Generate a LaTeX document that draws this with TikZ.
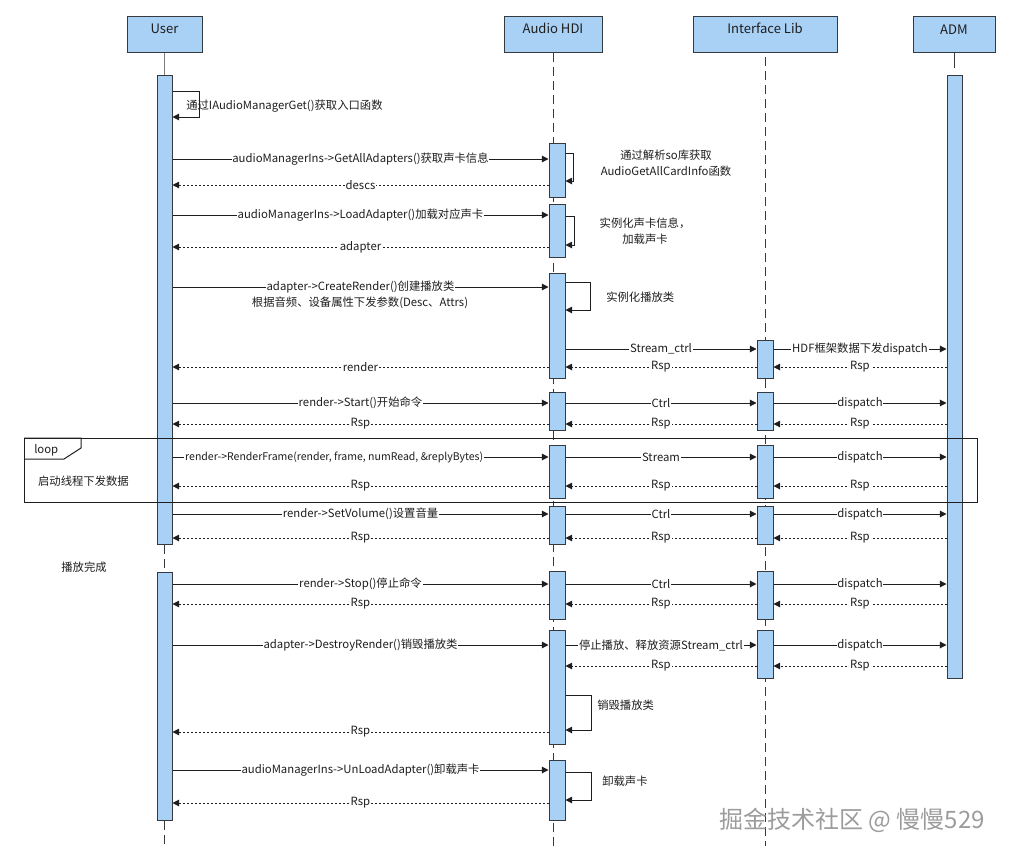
\documentclass[tikz,border=0pt]{standalone}
\usepackage{fontspec}
\setmainfont{Noto Sans CJK SC}
\usepackage{tikz}
\usetikzlibrary{arrows.meta,fit,positioning}
\definecolor{barra}{HTML}{A9D1F5}
\definecolor{borde}{HTML}{36393D}
\definecolor{linea}{HTML}{1E1E1E}
\definecolor{tenue}{HTML}{7A7A7A}
\definecolor{marca}{HTML}{9C9C9C}
\tikzset{
  cabeza/.style={draw=borde,fill=barra,line width=0.75pt,inner sep=0pt,font=\fontsize{9.8}{11}\selectfont,text=linea},
  activ/.style={draw=borde,fill=barra,line width=0.75pt,inner sep=0pt},
  vida/.style={draw=borde,line width=0.75pt,dash pattern=on 7pt off 3.5pt},
  vidafija/.style={draw=tenue,line width=0.75pt},
  mensaje/.style={draw=linea,line width=0.75pt,-{Triangle[length=5pt,width=5pt]}},
  retorno/.style={mensaje,dash pattern=on 1.5pt off 1.5pt},
  etiq/.style={fill=white,inner sep=0.6pt,font=\fontsize{8.5}{10}\selectfont,text=linea},
  etiqlarga/.style={etiq,font=\fontsize{7.9}{10}\selectfont},
  nota/.style={inner sep=0pt,font=\fontsize{8.5}{12}\selectfont,text=linea,align=center},
  marco/.style={draw=linea,line width=0.75pt},
  sello/.style={inner sep=0pt,font=\fontsize{18}{20}\selectfont,text=marca},
}
\begin{document}
\begin{tikzpicture}[x=0.75pt,y=-0.75pt]
\useasboundingbox (0,0) rectangle (1015,857);
\node[cabeza,fit={(127,16)(202,52)}] (user) {User};
\node[cabeza,fit={(504,16)(602,52)}] (hdi) {Audio HDI};
\node[cabeza,fit={(693,16)(837,52)}] (lib) {Interface Lib};
\node[cabeza,fit={(913,16)(995,52)}] (adm) {ADM};
\coordinate (fin) at (0,846);
\coordinate (fin2) at (0,57);
\draw[vida] (hdi.south) -- (hdi.south |- fin);
\draw[vida] (lib.south |- fin2) -- (lib.south |- fin);
\node[activ,fit={(157,75)(172,544)}] (u1) {};
\node[activ,fit={(157,572)(172,820)}] (u2) {};
\draw[vidafija] (user.south) -- (u1.north);
\draw[vida] (u1.south) -- (u2.north);
\draw[vida] (u2.south) -- (u2.south |- fin);
\node[activ,fit={(549,143)(565,197)}] (h1) {};
\node[activ,fit={(549,204)(565,257)}] (h2) {};
\node[activ,fit={(549,273)(565,378)}] (h3) {};
\node[activ,fit={(549,392)(565,430)}] (h4) {};
\node[activ,fit={(549,445)(565,498)}] (h5) {};
\node[activ,fit={(549,506)(565,544)}] (h6) {};
\node[activ,fit={(549,571)(565,619)}] (h7) {};
\node[activ,fit={(549,630)(565,744)}] (h8) {};
\node[activ,fit={(549,760)(565,820)}] (h9) {};
\node[activ,fit={(757,340)(773,378)}] (i1) {};
\node[activ,fit={(757,392)(773,430)}] (i2) {};
\node[activ,fit={(757,445)(773,498)}] (i3) {};
\node[activ,fit={(757,506)(773,544)}] (i4) {};
\node[activ,fit={(757,571)(773,619)}] (i5) {};
\node[activ,fit={(757,630)(773,678)}] (i6) {};
\node[activ,fit={(947,75)(962,678)}] (d1) {};
\draw[draw=borde,line width=0.75pt] (adm.south) -- ++(0,15);
\coordinate (f1) at (0,159);
\coordinate (f2) at (0,185);
\coordinate (f3) at (0,215);
\coordinate (f4) at (0,247);
\coordinate (f5) at (0,287);
\coordinate (f6) at (0,349);
\coordinate (f7) at (0,367);
\coordinate (f8) at (0,403);
\coordinate (f9) at (0,424);
\coordinate (f10) at (0,457);
\coordinate (f11) at (0,486);
\coordinate (f12) at (0,514);
\coordinate (f13) at (0,538);
\coordinate (f14) at (0,584);
\coordinate (f15) at (0,604);
\coordinate (f16) at (0,645);
\coordinate (f17) at (0,666);
\coordinate (f18) at (0,732);
\coordinate (f19) at (0,770);
\coordinate (f20) at (0,803);
\coordinate (s0a) at (199,91);
\coordinate (s0b) at (199,117);
\coordinate (s1a) at (573,153);
\coordinate (s1b) at (573,181);
\coordinate (s2a) at (574,216);
\coordinate (s2b) at (574,245);
\coordinate (s3a) at (590,282);
\coordinate (s3b) at (590,310);
\coordinate (s4a) at (591,695);
\coordinate (s4b) at (591,730);
\coordinate (s5a) at (591,772);
\coordinate (s5b) at (591,800);
\draw[marco] (24,438) rectangle (977,502);
\draw[marco] (24,438) -- (81,438) -- (81,448) -- (64,459) -- (24,459);
\node[nota,anchor=west] (bucle) at (34,450) {loop};
\node[nota] (hilo) at (83.5,481) {启动线程下发数据};
\node[nota] (fin3) at (84,567) {播放完成};
\draw[mensaje] (u1.east |- s0a) -- (s0a) -- (s0b) -- (u1.east |- s0b);
\node[nota,anchor=west] (n0) at (186,106) {通过IAudioManagerGet()获取入口函数};
\draw[mensaje] (u1.east |- f1) -- node[etiq] {audioManagerIns->GetAllAdapters()获取声卡信息} (h1.west |- f1);
\draw[mensaje] (h1.east |- s1a) -- (s1a) -- (s1b) -- (h1.east |- s1b);
\node[nota] (n1) at (666,163) {通过解析so库获取\\AudioGetAllCardInfo函数};
\draw[retorno] (h1.west |- f2) -- node[etiq] {descs} (u1.east |- f2);
\draw[mensaje] (u1.east |- f3) -- node[etiq] {audioManagerIns->LoadAdapter()加载对应声卡} (h2.west |- f3);
\draw[mensaje] (h2.east |- s2a) -- (s2a) -- (s2b) -- (h2.east |- s2b);
\node[nota] (n2) at (645,231) {实例化声卡信息，\\加载声卡};
\draw[retorno] (h2.west |- f4) -- node[etiq] {adapter} (u1.east |- f4);
\draw[mensaje] (u1.east |- f5) -- node[etiq] {adapter->CreateRender()创建播放类} (h3.west |- f5);
\node[nota] (n3) at (360,303) {根据音频、设备属性下发参数(Desc、Attrs)};
\draw[mensaje] (h3.east |- s3a) -- (s3a) -- (s3b) -- (h3.east |- s3b);
\node[nota,anchor=west] (n4) at (606,297) {实例化播放类};
\draw[mensaje] (h3.east |- f6) -- node[etiq] {Stream\_ctrl} (i1.west |- f6);
\draw[mensaje] (i1.east |- f6) -- node[etiq] {HDF框架数据下发dispatch} (d1.west |- f6);
\draw[retorno] (d1.west |- f7) -- node[etiq] {Rsp} (i1.east |- f7);
\draw[retorno] (i1.west |- f7) -- node[etiq] {Rsp} (h3.east |- f7);
\draw[retorno] (h3.west |- f7) -- node[etiq] {render} (u1.east |- f7);
\draw[mensaje] (u1.east |- f8) -- node[etiq] {render->Start()开始命令} (h4.west |- f8);
\draw[mensaje] (h4.east |- f8) -- node[etiq] {Ctrl} (i2.west |- f8);
\draw[mensaje] (i2.east |- f8) -- node[etiq] {dispatch} (d1.west |- f8);
\draw[retorno] (d1.west |- f9) -- node[etiq] {Rsp} (i2.east |- f9);
\draw[retorno] (i2.west |- f9) -- node[etiq] {Rsp} (h4.east |- f9);
\draw[retorno] (h4.west |- f9) -- node[etiq] {Rsp} (u1.east |- f9);
\draw[mensaje] (u1.east |- f10) -- node[etiqlarga,pos=0.43] {render->RenderFrame(render, frame, numRead, \&replyBytes)} (h5.west |- f10);
\draw[mensaje] (h5.east |- f10) -- node[etiq] {Stream} (i3.west |- f10);
\draw[mensaje] (i3.east |- f10) -- node[etiq] {dispatch} (d1.west |- f10);
\draw[retorno] (d1.west |- f11) -- node[etiq] {Rsp} (i3.east |- f11);
\draw[retorno] (i3.west |- f11) -- node[etiq] {Rsp} (h5.east |- f11);
\draw[retorno] (h5.west |- f11) -- node[etiq] {Rsp} (u1.east |- f11);
\draw[mensaje] (u1.east |- f12) -- node[etiq] {render->SetVolume()设置音量} (h6.west |- f12);
\draw[mensaje] (h6.east |- f12) -- node[etiq] {Ctrl} (i4.west |- f12);
\draw[mensaje] (i4.east |- f12) -- node[etiq] {dispatch} (d1.west |- f12);
\draw[retorno] (d1.west |- f13) -- node[etiq] {Rsp} (i4.east |- f13);
\draw[retorno] (i4.west |- f13) -- node[etiq] {Rsp} (h6.east |- f13);
\draw[retorno] (h6.west |- f13) -- node[etiq] {Rsp} (u1.east |- f13);
\draw[mensaje] (u2.east |- f14) -- node[etiq] {render->Stop()停止命令} (h7.west |- f14);
\draw[mensaje] (h7.east |- f14) -- node[etiq] {Ctrl} (i5.west |- f14);
\draw[mensaje] (i5.east |- f14) -- node[etiq] {dispatch} (d1.west |- f14);
\draw[retorno] (d1.west |- f15) -- node[etiq] {Rsp} (i5.east |- f15);
\draw[retorno] (i5.west |- f15) -- node[etiq] {Rsp} (h7.east |- f15);
\draw[retorno] (h7.west |- f15) -- node[etiq] {Rsp} (u2.east |- f15);
\draw[mensaje] (u2.east |- f16) -- node[etiq] {adapter->DestroyRender()销毁播放类} (h8.west |- f16);
\draw[mensaje] (h8.east |- f16) -- node[etiq] {停止播放、释放资源Stream\_ctrl} (i6.west |- f16);
\draw[mensaje] (i6.east |- f16) -- node[etiq] {dispatch} (d1.west |- f16);
\draw[retorno] (d1.west |- f17) -- node[etiq] {Rsp} (i6.east |- f17);
\draw[retorno] (i6.west |- f17) -- node[etiq] {Rsp} (h8.east |- f17);
\draw[mensaje] (h8.east |- s4a) -- (s4a) -- (s4b) -- (h8.east |- s4b);
\node[nota,anchor=west] (n5) at (597,705) {销毁播放类};
\draw[retorno] (h8.west |- f18) -- node[etiq] {Rsp} (u2.east |- f18);
\draw[mensaje] (u2.east |- f19) -- node[etiq] {audioManagerIns->UnLoadAdapter()卸载声卡} (h9.west |- f19);
\draw[mensaje] (h9.east |- s5a) -- (s5a) -- (s5b) -- (h9.east |- s5b);
\node[nota,anchor=west] (n6) at (602,781) {卸载声卡};
\draw[retorno] (h9.west |- f20) -- node[etiq] {Rsp} (u2.east |- f20);
\node[sello] (firma) at (852,820) {掘金技术社区 @ 慢慢529};
\end{tikzpicture}
\end{document}
